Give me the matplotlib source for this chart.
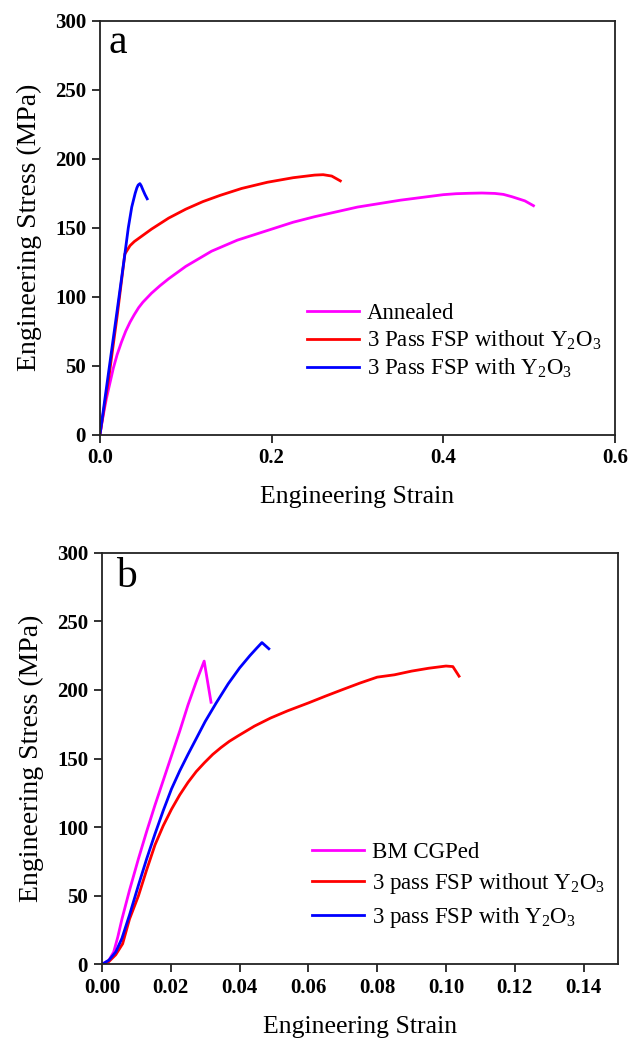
import matplotlib
matplotlib.use("Agg")
import matplotlib.pyplot as plt

plt.rcParams['font.family'] = ['Liberation Serif', 'DejaVu Serif']
plt.rcParams['mathtext.fontset'] = 'custom'
plt.rcParams['mathtext.rm'] = 'Liberation Serif'
plt.rcParams['mathtext.it'] = 'Liberation Serif:italic'
plt.rcParams['mathtext.bf'] = 'Liberation Serif:bold'

# ---------------- Panel a data ----------------
a_annealed_x = [0, 0.0025, 0.005, 0.0075, 0.01, 0.0155, 0.02, 0.025, 0.03, 0.035, 0.04, 0.045,
                0.05, 0.06, 0.07, 0.08, 0.09, 0.1, 0.115, 0.13, 0.145, 0.16, 0.18, 0.2,
                0.225, 0.25, 0.275, 0.3, 0.325, 0.35, 0.375, 0.4, 0.415, 0.43, 0.445,
                0.46, 0.47, 0.48, 0.495, 0.505]
a_annealed_y = [0, 9.5, 18, 26, 33, 48, 58, 67, 75, 81.5, 87, 92,
                96, 102.5, 108, 113, 117.5, 122, 127.5, 133, 137, 141, 145, 149,
                154, 158, 161.5, 165, 167.5, 170, 172, 174, 174.7, 175, 175.2,
                174.9, 174.2, 172.5, 169.5, 166]

a_without_x = [0, 0.01, 0.02, 0.029, 0.035, 0.04, 0.05, 0.06, 0.08, 0.1, 0.12, 0.14,
               0.165, 0.195, 0.225, 0.25, 0.26, 0.27, 0.28]
a_without_y = [0, 40, 86, 131, 137, 140, 144.5, 149, 157, 163.5, 169, 173.5,
               178.5, 183, 186.3, 188.2, 188.5, 187.5, 184]

a_with_x = [0, 0.01, 0.02, 0.029, 0.033, 0.037, 0.041, 0.043, 0.0445, 0.0465, 0.048, 0.05,
            0.0525, 0.055]
a_with_y = [0, 45, 90, 131, 150, 165, 175, 179, 181, 182, 180.5, 177.5,
            174, 171]

a_labels = ['Annealed', r'3 Pass FSP without Y$_\mathrm{2}$O$_\mathrm{3}$',
            r'3 Pass FSP with Y$_\mathrm{2}$O$_\mathrm{3}$']
a_xticks = [0.0, 0.2, 0.4, 0.6]
a_xticklabels = ['0.0', '0.2', '0.4', '0.6']

# ---------------- Panel b data ----------------
b_bm_x = [0, 0.002, 0.0034, 0.0046, 0.0058, 0.008, 0.0106, 0.013, 0.0154, 0.0178, 0.0202,
          0.0226, 0.025, 0.0274, 0.0297, 0.0317]
b_bm_y = [0, 3, 9, 20, 33, 54, 77, 97, 116, 134, 152,
          170, 189, 206, 221, 191]

b_without_x = [0, 0.002, 0.004, 0.006, 0.008, 0.0106, 0.013, 0.0154, 0.0178, 0.0202, 0.0226,
               0.025, 0.0274, 0.0298, 0.0322, 0.0346, 0.037, 0.0395, 0.0443, 0.049, 0.054,
               0.06, 0.065, 0.07, 0.075, 0.08, 0.085, 0.09, 0.095, 0.1, 0.102, 0.1038]
b_without_y = [0, 2, 7, 15, 33, 50, 69, 87, 101, 113, 123.5,
               132.6, 140.5, 147, 153, 158, 162.5, 166.4, 173.6, 179.5, 184.8,
               190.5, 195.5, 200.3, 205, 209.3, 211, 213.7, 215.8, 217.4, 217, 210]

b_with_x = [0, 0.002, 0.004, 0.0058, 0.008, 0.0106, 0.013, 0.0154, 0.0178, 0.0202, 0.0226,
            0.025, 0.0274, 0.03, 0.0332, 0.0367, 0.04, 0.043, 0.045, 0.0465, 0.0485]
b_with_y = [0, 3, 9, 19, 36, 57.7, 77, 95, 112, 127.8, 141,
            153, 164.5, 177, 190.5, 204.5, 216, 225, 230.5, 234.5, 230]

b_labels = ['BM CGPed', r'3 pass FSP without Y$_\mathrm{2}$O$_\mathrm{3}$',
            r'3 pass FSP with Y$_\mathrm{2}$O$_\mathrm{3}$']
b_xticks = [0.0, 0.02, 0.04, 0.06, 0.08, 0.10, 0.12, 0.14]
b_xticklabels = ['0.00', '0.02', '0.04', '0.06', '0.08', '0.10', '0.12', '0.14']

yticks = [0, 50, 100, 150, 200, 250, 300]

MAG = '#FF00FF'
RED = '#FF0000'
BLU = '#0000FF'

fig = plt.figure(figsize=(6.3, 10.44), dpi=100)
ax1 = fig.add_axes([0.1587, 0.5838, 0.8175, 0.3961])
ax2 = fig.add_axes([0.1619, 0.0763, 0.819, 0.3943])


def style(ax, xticks, xticklabels, xmax, letter, lx, ly):
    ax.set_xlim(0, xmax)
    ax.set_ylim(0, 300)
    ax.set_xticks(xticks)
    ax.set_xticklabels(xticklabels)
    ax.set_yticks(yticks)
    for s in ax.spines.values():
        s.set_linewidth(1.3)
        s.set_color('#222222')
    ax.tick_params(direction='out', length=6, width=1.3, labelsize=15, pad=4,
                   color='#222222')
    for lab in ax.get_xticklabels() + ax.get_yticklabels():
        lab.set_fontweight('bold')
    ax.set_ylabel('Engineering Stress (MPa)', fontsize=20, labelpad=9)
    ax.set_xlabel('Engineering Strain', fontsize=18.5, labelpad=13)
    ax.text(lx, ly, letter, transform=ax.transAxes, fontsize=30,
            va='baseline', ha='left')


lw = 2.0
ax1.plot(a_annealed_x, a_annealed_y, color=MAG, lw=lw, label=a_labels[0])
ax1.plot(a_without_x, a_without_y, color=RED, lw=lw, label=a_labels[1])
ax1.plot(a_with_x, a_with_y, color=BLU, lw=lw, label=a_labels[2])
style(ax1, a_xticks, a_xticklabels, 0.6, 'a', 0.017, 0.9226)
ax1.legend(loc='upper left', bbox_to_anchor=(0.385, 0.34), frameon=False,
           fontsize=16.5, handlelength=2.25, handletextpad=0.35, labelspacing=0.2,
           borderaxespad=0)

ax2.plot(b_bm_x, b_bm_y, color=MAG, lw=lw, label=b_labels[0])
ax2.plot(b_without_x, b_without_y, color=RED, lw=lw, label=b_labels[1])
ax2.plot(b_with_x, b_with_y, color=BLU, lw=lw, label=b_labels[2])
style(ax2, b_xticks, b_xticklabels, 0.15, 'b', 0.028, 0.9167)
ax2.legend(loc='upper left', bbox_to_anchor=(0.39, 0.32), frameon=False,
           fontsize=16.5, handlelength=2.25, handletextpad=0.35, labelspacing=0.37,
           borderaxespad=0)

fig.savefig('out.png', dpi=100)
